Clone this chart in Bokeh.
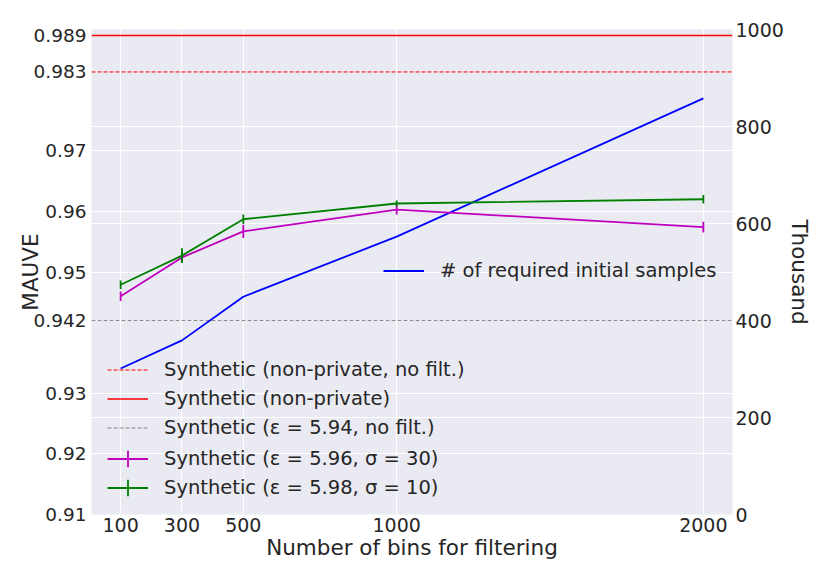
import math
from bokeh.plotting import figure
from bokeh.models import (Range1d, LinearAxis, FixedTicker, Grid, Legend, LegendItem,
                          CustomJSTickFormatter)
from bokeh.embed import file_html
from bokeh.resources import INLINE

# ---------------- data ----------------
bins = [100, 300, 500, 1000, 2000]
samples_thousand = [301, 359, 449, 573, 858]
mauve_sigma30 = [0.9460, 0.9524, 0.9567, 0.9603, 0.9574]
err_sigma30 = [0.0008, 0.0008, 0.0011, 0.0008, 0.0009]
mauve_sigma10 = [0.9479, 0.9527, 0.9587, 0.9613, 0.9620]
err_sigma10 = [0.0007, 0.0012, 0.0008, 0.0005, 0.0007]
ref_nonpriv_nofilt = 0.983
ref_nonpriv = 0.989
ref_eps594_nofilt = 0.942
left_ticks = [0.91, 0.92, 0.93, 0.942, 0.95, 0.96, 0.97, 0.983, 0.989]
grid_ticks = [0.91, 0.92, 0.93, 0.95, 0.96, 0.97]
right_ticks = [0, 200, 400, 600, 800, 1000]
x_ticks = [100, 300, 500, 1000, 2000]

FONT = "DejaVu Sans"
TXT = "#262626"
BG = "#EAEAF2"
M = "#BF00BF"
G = "#008000"

xr = Range1d(5, 2095)
yr = Range1d(0.91, 0.99)
p = figure(width=814, height=565, x_range=xr, y_range=yr,
           output_backend="svg", toolbar_location=None,
           min_border_left=91, min_border_right=81, min_border_top=29, min_border_bottom=51,
           background_fill_color=BG, border_fill_color="white", outline_line_color=None)
p.extra_y_ranges = {"right": Range1d(0, 1000)}

def style_axis(ax, size="19px"):
    ax.axis_line_color = None
    ax.major_tick_line_color = None
    ax.minor_tick_line_color = None
    ax.major_tick_out = 0
    ax.major_tick_in = 0
    ax.major_label_text_font = FONT
    ax.major_label_text_font_size = size
    ax.major_label_text_color = TXT
    ax.axis_label_text_font = FONT
    ax.axis_label_text_font_size = "21.5px"
    ax.axis_label_text_font_style = "normal"
    ax.axis_label_text_color = TXT

xa = p.xaxis[0]
ya = p.yaxis[0]
xa.ticker = FixedTicker(ticks=x_ticks)
ya.ticker = FixedTicker(ticks=left_ticks)
ya.formatter = CustomJSTickFormatter(code="return tick.toFixed(3).replace(/0$/, '');")
xa.axis_label = "Number of bins for filtering"
ya.axis_label = "MAUVE"
style_axis(xa)
style_axis(ya, "18.5px")
xa.major_label_standoff = 3
xa.axis_label_standoff = 0
ya.major_label_standoff = 5
ya.axis_label_standoff = -12

ra = LinearAxis(y_range_name="right", ticker=FixedTicker(ticks=right_ticks), axis_label="Thousand")
style_axis(ra)
ra.major_label_standoff = 3
ra.axis_label_standoff = 0
try:
    ra.axis_label_orientation = "vertical"
except Exception:
    pass
p.add_layout(ra, "right")

p.xgrid.grid_line_color = "white"
p.xgrid.grid_line_width = 1
p.ygrid.grid_line_color = "white"
p.ygrid.grid_line_width = 1
p.ygrid.ticker = FixedTicker(ticks=grid_ticks)
rgrid = Grid(dimension=1, ticker=ra.ticker, y_range_name="right",
             grid_line_color="white", grid_line_width=1)
p.add_layout(rgrid)

# reference lines
r_red_dash = p.line(x=[xr.start, xr.end], y=[ref_nonpriv_nofilt] * 2, line_color="red",
                    line_width=1, line_dash="4 2")
r_red = p.line(x=[xr.start, xr.end], y=[ref_nonpriv] * 2, line_color="#FF0000", line_width=1.5)
r_black = p.line(x=[xr.start, xr.end], y=[ref_eps594_nofilt] * 2, line_color="black",
                 line_alpha=0.45, line_width=1, line_dash="4 2")

# number of samples (right axis)
r_blue = p.line(x=bins, y=samples_thousand, line_color="blue", line_width=1.8,
                y_range_name="right")

# MAUVE curves with error bars
r_m = p.line(x=bins, y=mauve_sigma30, line_color=M, line_width=1.8)
p.segment(x0=bins, x1=bins, y0=[m - e for m, e in zip(mauve_sigma30, err_sigma30)],
          y1=[m + e for m, e in zip(mauve_sigma30, err_sigma30)], line_color=M, line_width=1.8)
r_g = p.line(x=bins, y=mauve_sigma10, line_color=G, line_width=1.8)
p.segment(x0=bins, x1=bins, y0=[m - e for m, e in zip(mauve_sigma10, err_sigma10)],
          y1=[m + e for m, e in zip(mauve_sigma10, err_sigma10)], line_color=G, line_width=1.8)

# legend proxies (cross = line + vertical error stroke)
nan = float("nan")
px_m = p.scatter(x=[nan], y=[nan], marker="cross", size=16, line_color=M, line_width=1.8)
px_g = p.scatter(x=[nan], y=[nan], marker="cross", size=16, line_color=G, line_width=1.8)

def add_legend(label, renderers, loc, gh=21):
    lg = Legend(items=[LegendItem(label=label, renderers=renderers)], location=loc)
    lg.glyph_width = 41
    lg.glyph_height = gh
    lg.label_height = 21
    lg.label_standoff = 16
    lg.spacing = 0
    lg.padding = 0
    lg.margin = 0
    lg.border_line_alpha = 0
    lg.background_fill_alpha = 0
    lg.label_text_font = FONT
    lg.label_text_font_size = "19.5px"
    lg.label_text_color = TXT
    p.add_layout(lg)

add_legend("Synthetic (non-private, no filt.)", [r_red_dash], (16, 133))
add_legend("Synthetic (non-private)", [r_red], (16, 104))
add_legend("Synthetic (ε = 5.94, no filt.)", [r_black], (16, 75))
add_legend("Synthetic (ε = 5.96, σ = 30)", [r_m, px_m], (16, 35), gh=41)
add_legend("Synthetic (ε = 5.98, σ = 10)", [r_g, px_g], (16, 6), gh=41)
add_legend("# of required initial samples", [r_blue], (292, 232))

open("out.html", "w").write(file_html(p, INLINE))
